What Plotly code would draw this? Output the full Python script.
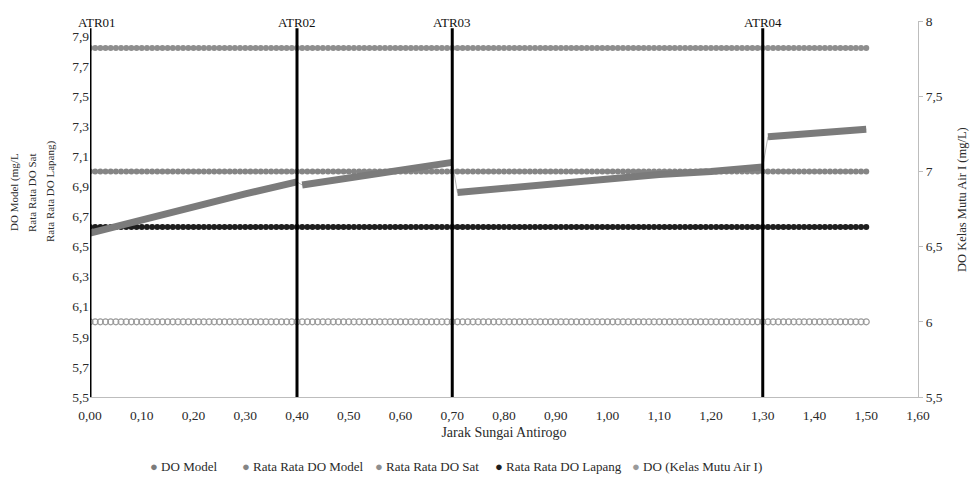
import plotly.graph_objects as go

# ---- data ----
x_grid = [round(i * 0.01, 2) for i in range(151)]  # sampling positions along river (km)

do_sat_avg = 7.82        # Rata Rata DO Sat
do_model_avg = 7.00      # Rata Rata DO Model
do_lapang_avg = 6.63     # Rata Rata DO Lapang
do_kelas1 = 6.0          # DO (Kelas Mutu Air I), secondary axis

model_x = [0.00, 0.10, 0.20, 0.30, 0.40, None, 0.41, 0.50, 0.60, 0.70, None,
           0.71, 0.80, 0.90, 1.00, 1.10, 1.20, 1.30, None, 1.31, 1.40, 1.50]
model_y = [6.59, 6.68, 6.77, 6.85, 6.93, None, 6.91, 6.96, 7.01, 7.06, None,
           6.86, 6.89, 6.92, 6.95, 6.98, 7.00, 7.03, None, 7.23, 7.25, 7.28]

stations = ["ATR01", "ATR02", "ATR03", "ATR04"]
station_x = [0.00, 0.40, 0.70, 1.30]

x_ticks = [round(i * 0.1, 1) for i in range(17)]
y_ticks = [round(5.5 + i * 0.2, 1) for i in range(13)]

left_title_lines = ["DO Model (mg/L", "Rata Rata DO Sat", "Rata Rata DO Lapang)"]
right_title = "DO Kelas Mutu Air I (mg/L)"
legend_names = ["DO Model", "Rata Rata DO Model", "Rata Rata DO Sat",
                "Rata Rata DO Lapang", "DO (Kelas Mutu Air I)"]

FONT = "Liberation Serif, Times New Roman, DejaVu Serif, serif"
C_MODEL = "#7b7b7b"
C_MODEL_AVG = "#858585"
C_SAT = "#8e8e8e"
C_LAPANG = "#1e1e1e"
C_KELAS = "#9a9a9a"
TXT = "#2a2a2a"
legend_colors = [C_MODEL, C_MODEL_AVG, C_SAT, C_LAPANG, C_KELAS]

L, R, T, B = 90, 54, 21, 82
W, H = 972, 479
plot_w = W - L - R
plot_h = H - T - B


def px_x(p):
    return (p - L) / plot_w


def px_y(p):
    return (H - B - p) / plot_h


fig = go.Figure()

# constant reference series (dense markers)
fig.add_trace(go.Scatter(x=x_grid, y=[do_sat_avg] * len(x_grid), mode="markers",
                         marker=dict(size=6, color=C_SAT), name=legend_names[2], showlegend=False))
fig.add_trace(go.Scatter(x=x_grid, y=[do_model_avg] * len(x_grid), mode="markers",
                         marker=dict(size=6, color=C_MODEL_AVG), name=legend_names[1], showlegend=False))
fig.add_trace(go.Scatter(x=x_grid, y=[do_lapang_avg] * len(x_grid), mode="markers",
                         marker=dict(size=6, color=C_LAPANG), name=legend_names[3], showlegend=False))
fig.add_trace(go.Scatter(x=x_grid, y=[do_kelas1] * len(x_grid), mode="markers",
                         marker=dict(size=6, color=C_KELAS, symbol="circle-open", line=dict(width=1.2)),
                         yaxis="y2", name=legend_names[4], showlegend=False))

# DO model: thin connector + thick segments
conn_x = [v for v in model_x if v is not None]
conn_y = [v for v in model_y if v is not None]
fig.add_trace(go.Scatter(x=conn_x, y=conn_y, mode="lines",
                         line=dict(color="#b5b5b5", width=1), showlegend=False, hoverinfo="skip"))
fig.add_trace(go.Scatter(x=model_x, y=model_y, mode="lines", name=legend_names[0],
                         line=dict(color=C_MODEL, width=7), showlegend=False))

# station vertical lines
for i, (sx, name) in enumerate(zip(station_x, stations)):
    fig.add_shape(type="line", xref="x", yref="paper", x0=sx, x1=sx, y0=0, y1=0.981,
                  line=dict(color="#000000", width=3))
    fig.add_annotation(x=sx, y=0.995, xref="x", yref="paper", text=name, showarrow=False,
                       xshift=7 if i == 0 else 0,
                       font=dict(family=FONT, size=13, color="#111111"), yanchor="middle")

# left axis title (three centred lines)
for cx, line in zip([14, 32, 50], left_title_lines):
    fig.add_annotation(x=px_x(cx), y=px_y(192), xref="paper", yref="paper", text=line,
                       textangle=-90, showarrow=False, xanchor="center", yanchor="middle",
                       font=dict(family=FONT, size=11, color=TXT))
fig.add_annotation(x=px_x(962), y=px_y(200), xref="paper", yref="paper", text=right_title,
                   textangle=-90, showarrow=False, xanchor="center", yanchor="middle",
                   font=dict(family=FONT, size=12.5, color=TXT))

# legend row (bullet + label), laid out left to right
legend_left = [148, 240, 373, 493, 630]
for lx, name, col in zip(legend_left, legend_names, legend_colors):
    fig.add_annotation(x=px_x(lx), y=px_y(466), xref="paper", yref="paper",
                       text=f"<span style='color:{col}'>●</span> {name}",
                       showarrow=False, xanchor="left", yanchor="middle",
                       font=dict(family=FONT, size=13, color=TXT))

fig.update_layout(
    width=W, height=H,
    margin=dict(l=L, r=R, t=T, b=B, autoexpand=False),
    paper_bgcolor="white", plot_bgcolor="white",
    separators=",.",
    font=dict(family=FONT, size=13, color=TXT),
    showlegend=False,
    xaxis=dict(range=[0, 1.6], tickvals=x_ticks, tickformat=".2f", showgrid=False, zeroline=False,
               showline=True, linecolor="#bdbdbd", linewidth=1, ticks="", automargin=False,
               ticklabelstandoff=6,
               title=dict(text="Jarak Sungai Antirogo", font=dict(family=FONT, size=14), standoff=4),
               tickfont=dict(family=FONT, size=13.5, color=TXT)),
    yaxis=dict(range=[5.5, 8.0], tickvals=y_ticks, tickformat=".1f", showgrid=False, zeroline=False,
               showline=False, ticks="", automargin=False,
               tickfont=dict(family=FONT, size=13.5, color=TXT)),
    yaxis2=dict(range=[5.5, 8.0], dtick=0.5, overlaying="y", side="right", showgrid=False,
                zeroline=False, showline=True, linecolor="#bdbdbd", ticks="outside", ticklen=4,
                tickcolor="#bdbdbd", automargin=False,
                tickfont=dict(family=FONT, size=13.5, color=TXT)),
)

fig.write_html("out.html")
